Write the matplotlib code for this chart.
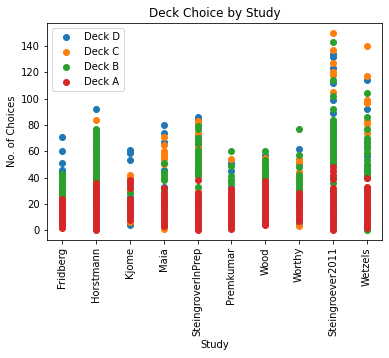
import matplotlib
matplotlib.use("Agg")
import matplotlib.pyplot as plt

studies = ["Fridberg", "Horstmann", "Kjome", "Maia", "SteingroverInPrep",
           "Premkumar", "Wood", "Worthy", "Steingroever2011", "Wetzels"]

deck_d = [
    [71, 60, 51, 46, 44, 38, 30, 22, 15],
    [92, 70, 62, 55, 48, 40, 30, 20],
    [61, 59, 53, 35, 25, 4],
    [80, 74, 67, 46, 33],
    [86, 84, 72, 65, 45, 20],
    [51, 45, 33],
    [57, 45],
    [62, 50, 30, 5],
    [134, 132, 123, 112, 99, 89, 60, 40],
    [114, 92, 56, 48, 30],
]

deck_c = [
    [35, 28, 20, 14, 8, 5],
    [84, 75, 65, 55, 45, 35, 25],
    [42, 40, 30, 18, 6],
    [71, 65, 60, 58, 56, 54, 50, 20, 1],
    [83, 81, 74, 63, 58, 50, 30],
    [54, 20, 2],
    [55, 40],
    [54, 52, 44, 20, 3],
    [150, 137, 127, 120, 118, 105, 67, 30],
    [140, 117, 99, 97, 83, 81, 74, 13],
]

deck_b = [
    [43, 41, 39, 37, 35, 33, 31, 29, 27, 25, 20, 10],
    [77, 75, 73, 71, 69, 67, 65, 63, 61, 59, 57, 55, 53, 51, 49, 47, 45, 43, 41, 39, 37],
    [37, 33, 28, 20, 14],
    [51, 44, 42, 40, 38, 30],
    [79, 77, 70, 68, 66, 61, 59, 57, 55, 53, 51, 49, 47, 45, 43, 41, 33],
    [60, 49, 41, 38, 36],
    [60, 53, 51, 49, 47, 45, 43, 41, 39],
    [77, 57, 48, 42, 40, 38, 36, 34, 32, 30],
    [143, 114, 102, 92, 84, 82, 80, 78, 76, 74, 72, 70, 68, 66, 64, 62, 60, 58, 56, 54, 52, 50, 36, 15],
    [104, 86, 77, 70, 68, 66, 64, 62, 59, 53, 50, 48, 46, 44, 42, 40, 0],
]

deck_a = [
    [24, 22, 20, 18, 16, 14, 12, 10, 8, 6, 4, 2],
    [36, 34, 32, 30, 28, 26, 24, 22, 20, 18, 16, 14, 12, 10, 8, 6, 4, 2, 0],
    [38, 36, 32, 24, 22, 20, 18, 16, 14, 12, 10, 8],
    [32, 28, 26, 24, 22, 20, 18, 16, 14, 12, 10, 8, 6, 4, 3],
    [38, 28, 26, 24, 22, 20, 18, 16, 14, 12, 10, 8, 6, 4, 2, 0],
    [31, 29, 27, 25, 23, 21, 19, 17, 15, 13, 11, 9, 7, 5, 3, 1],
    [37, 35, 33, 31, 29, 27, 25, 23, 21, 19, 17, 15, 13, 11, 9, 7, 5, 4],
    [28, 26, 24, 22, 20, 18, 16, 14, 12, 10, 8, 7],
    [48, 45, 42, 39, 32, 30, 28, 26, 24, 22, 20, 18, 16, 14, 12, 10, 8, 6, 4, 2, 0],
    [40, 33, 31, 29, 27, 25, 23, 21, 19, 17, 15, 13, 11, 9, 7, 5, 3, 2],
]

series = [("Deck D", deck_d, "tab:blue"),
          ("Deck C", deck_c, "tab:orange"),
          ("Deck B", deck_b, "tab:green"),
          ("Deck A", deck_a, "tab:red")]

fig = plt.figure(figsize=(389 / 72, 358 / 72), dpi=72)
ax = fig.add_axes([47 / 389, 1 - 240 / 358, (382 - 47) / 389, (240 - 23) / 358])

for label, data, color in series:
    xs, ys = [], []
    for study, vals in zip(studies, data):
        xs.extend([study] * len(vals))
        ys.extend(vals)
    ax.scatter(xs, ys, color=color, label=label)

ax.set_title("Deck Choice by Study")
ax.set_xlabel("Study")
ax.set_ylabel("No. of Choices")
ax.set_yticks(range(0, 141, 20))
ax.tick_params(axis="x", labelrotation=90)
ax.legend(loc="upper left")

fig.savefig("out.png", dpi=72)
